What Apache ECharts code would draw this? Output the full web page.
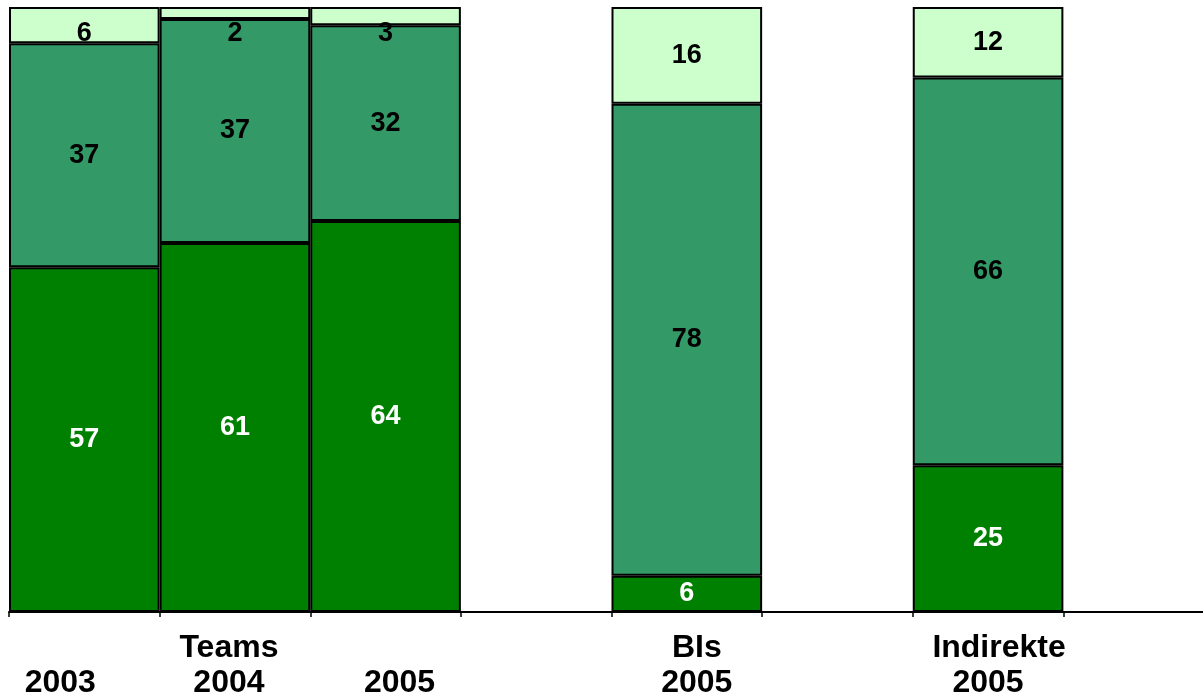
<!DOCTYPE html>
<html>
<head>
<meta charset="utf-8">
<script src="https://cdn.jsdelivr.net/npm/echarts@6/dist/echarts.min.js"></script>
<style>
  html, body { margin: 0; padding: 0; background: #fff; }
  #chart { width: 1203px; height: 699px; }
</style>
</head>
<body>
<div id="chart"></div>
<script>
// category labels (two lines: group / year), empty slots act as gaps
const groups = ['', 'Teams', '', '', 'BIs', '', 'Indirekte', '']
const years = ['2003', '2004', '2005', '', '2005', '', '2005', '']

// segment values as printed on the bars
const bottomVals = [57, 61, 64, null, 6, null, 25, null]
const middleVals = [37, 37, 32, null, 78, null, 66, null]
const topVals = [6, 2, 3, null, 16, null, 12, null]

// horizontal nudges of the label lines (px), the original text boxes are not centred
const groupShift = [0, -6, 0, 0, 10, 0, 11, 0]
const yearShift = [-24, -6, 14, 0, 10, 0, 0, 0]

const fontFamily = '"Liberation Sans", Arial, sans-serif'

// bars are drawn as 100% stacks, labels keep the printed numbers
const totals = bottomVals.map((v, i) =>
  v == null ? null : v + middleVals[i] + topVals[i]
)
const toPct = arr =>
  arr.map((v, i) => (v == null ? null : { value: (v / totals[i]) * 100, raw: v }))

const pad = off => (off >= 0 ? [0, 0, 0, off * 2] : [0, -off * 2, 0, 0])
const rich = {}
groups.forEach((g, i) => {
  rich['g' + i] = { padding: pad(groupShift[i]) }
  rich['y' + i] = { padding: pad(yearShift[i]) }
})

const labelBase = {
  show: true,
  position: 'inside',
  fontFamily,
  fontWeight: 'bold',
  fontSize: 27,
  formatter: p => (p.data && p.data.raw != null ? p.data.raw : ''),
}

const makeSeries = (name, vals, color, textColor) => ({
  name,
  type: 'bar',
  stack: 'total',
  barCategoryGap: 0,
  barGap: 0,
  itemStyle: { color, borderColor: '#000', borderWidth: 2 },
  label: { ...labelBase, color: textColor },
  data: toPct(vals),
})

const topSeries = makeSeries('top', topVals, '#CCFFCC', '#000')
// small top slices: label sits just below the plot top
topSeries.data = topSeries.data.map(d =>
  d && d.raw < 10
    ? { ...d, label: { position: ['50%', 27], align: 'center', verticalAlign: 'middle' } }
    : d
)

const chart = echarts.init(document.getElementById('chart'))
chart.setOption({
  animation: false,
  backgroundColor: '#fff',
  grid: {
    left: 9,
    right: -11,
    top: 7,
    bottom: 87,
    containLabel: false,
    outerBoundsMode: 'none',
  },
  xAxis: {
    type: 'category',
    data: groups.map((g, i) => i),
    axisLine: { show: true, lineStyle: { color: '#000', width: 2 } },
    axisTick: { show: true, length: 5, lineStyle: { color: '#000', width: 1.5 } },
    axisLabel: {
      interval: 0,
      margin: 19,
      color: '#000',
      fontFamily,
      fontWeight: 'bold',
      fontSize: 32,
      lineHeight: 35,
      formatter: (v, i) => `{g${i}|${groups[i]}}\n{y${i}|${years[i]}}`,
      rich,
    },
  },
  yAxis: {
    type: 'value',
    min: 0,
    max: 100,
    show: false,
  },
  series: [
    makeSeries('bottom', bottomVals, '#008000', '#fff'),
    makeSeries('middle', middleVals, '#339966', '#000'),
    topSeries,
  ],
})
</script>
</body>
</html>
